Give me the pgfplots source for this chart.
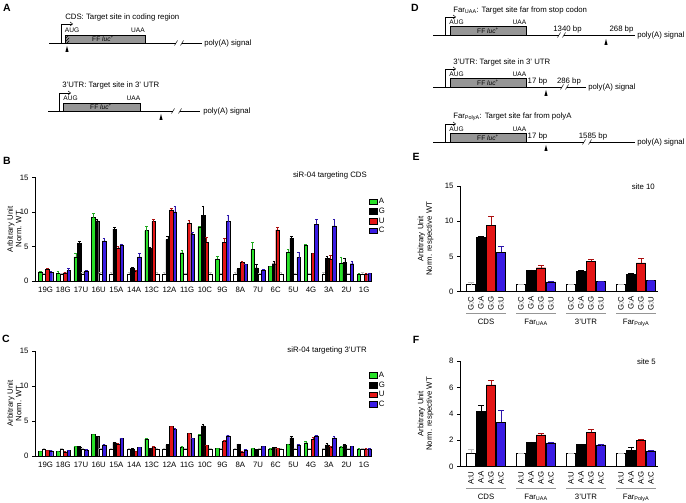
\documentclass[border=0pt]{standalone}
\usepackage{pgfplots}
\pgfplotsset{compat=1.18}
\usepackage{pgfplotstable}
\usepackage{fontspec}
\setmainfont{Liberation Sans}
\usetikzlibrary{patterns,arrows.meta}
\definecolor{cgreen}{RGB}{40,225,40}
\definecolor{cred}{RGB}{228,22,22}
\definecolor{cblue}{RGB}{58,28,228}
\definecolor{cbox}{RGB}{150,150,150}
\newcommand\fs{\fontsize{7.8}{8.4}\selectfont}
\newcommand\fsm{\fontsize{6.6}{7}\selectfont}
\newcommand\fsl{\fontsize{10.5}{11}\selectfont\bfseries}

\pgfplotstableread{
pos A eA G eG U eU C eC
0 1.35 0.1 nan 0 1.7 0.15 1.3 0.1
1 1.1 0.3 nan 0 1.2 0.1 1.5 0.3
2 3.5 0.5 5.45 0.3 nan 0 1.45 0.1
3 9.2 0.6 8.7 0.3 nan 0 5.8 0.4
4 nan 0 7.5 0.3 4.8 0.2 5.2 0.2
5 nan 0 1.9 0.1 1.4 0.1 3.5 0.5
6 7.3 0.6 4.7 0.2 8.6 0.3 nan 0
7 nan 0 6.0 0.5 10.3 0.3 10.0 0.8
8 4.1 0.4 nan 0 8.4 0.4 6.8 0.3
9 7.8 0.2 9.5 1.4 5.6 0.8 nan 0
10 3.2 0.4 nan 0 5.6 0.6 8.6 0.9
11 nan 0 1.7 0.1 2.7 0.1 2.4 0.1
12 4.6 1.0 1.9 0.5 nan 0 1.6 0.1
13 2.1 0.1 2.5 0.4 7.4 0.4 nan 0
14 4.2 0.4 6.2 0.3 nan 0 3.4 0.8
15 5.2 0.1 nan 0 4.0 0.1 8.2 0.7
16 nan 0 3.3 0.3 3.2 0.6 8.0 1.0
17 2.6 0.9 2.75 0.6 nan 0 2.5 0.4
18 1.0 0.1 nan 0 1.0 0.1 1.1 0.1
}\tabCDS

\pgfplotstableread{
x y e
-0.1 1.05 0.15
0.9 1.0 0.2
2.1 1.05 0.2
3.1 1.05 0.2
3.7 1.0 0.3
4.7 1.0 0.3
6.3 1.0 0.3
6.7 1.0 0.3
7.9 1.0 0.2
9.3 1.0 0.3
9.9 1.0 0.2
10.7 1.0 0.3
12.1 1.0 0.2
13.3 1.0 0.3
14.1 1.0 0.2
14.9 1.0 0.2
15.7 1.0 0.3
17.1 1.0 0.2
17.9 1.0 0.3
}\tabCDSwt

\pgfplotstableread{
pos A eA G eG U eU C eC
0 0.7 0.05 nan 0 0.8 0.05 0.75 0.05
1 0.7 0.05 nan 0 0.6 0.05 0.8 0.05
2 1.35 0.05 1.3 0.05 nan 0 0.85 0.05
3 3.1 0.05 2.8 0.05 nan 0 1.6 0.05
4 nan 0 1.9 0.05 1.7 0.1 2.5 0.1
5 nan 0 1.0 0.05 0.7 0.05 1.2 0.05
6 2.4 0.2 1.1 0.05 1.3 0.05 nan 0
7 nan 0 1.6 0.1 4.2 0.1 3.8 0.1
8 1.3 0.05 nan 0 3.2 0.05 2.5 0.1
9 3.0 0.1 4.3 0.3 1.5 0.05 nan 0
10 1.1 0.05 nan 0 2.1 0.1 2.9 0.1
11 nan 0 1.7 0.05 0.6 0.05 0.9 0.05
12 1.1 0.05 0.9 0.05 nan 0 1.4 0.05
13 1.0 0.05 1.2 0.05 1.1 0.05 nan 0
14 1.7 0.05 2.6 0.2 nan 0 1.6 0.05
15 1.9 0.2 nan 0 2.4 0.3 2.9 0.05
16 nan 0 1.6 0.2 1.3 0.05 2.6 0.2
17 1.3 0.05 1.6 0.05 nan 0 1.4 0.05
18 1.0 0.05 nan 0 1.0 0.05 1.0 0.05
}\tabUTR

\pgfplotstableread{
x y e
-0.1 1.0 0.08
0.9 1.0 0.08
2.1 1.0 0.08
3.1 1.0 0.08
3.7 1.0 0.08
4.7 1.0 0.08
6.3 1.0 0.08
6.7 1.0 0.08
7.9 1.0 0.08
9.3 1.0 0.08
9.9 1.0 0.08
10.7 1.0 0.08
12.1 1.0 0.08
13.3 1.0 0.08
14.1 1.0 0.08
14.9 1.0 0.08
15.7 1.0 0.08
17.1 1.0 0.08
17.9 1.0 0.08
}\tabUTRwt

\pgfplotstableread{
x W eW K eK R eR B eB
0 1.0 0.3 7.7 0.1 9.4 1.35 5.6 0.85
5 1.0 0.03 3.0 0.08 3.4 0.3 1.4 0.12
10 1.0 0.03 2.9 0.12 4.3 0.3 1.5 0.05
15 1.0 0.03 2.5 0.15 4.1 0.6 1.6 0.05
}\tabE

\pgfplotstableread{
x W eW K eK R eR B eB
0 1.0 0.35 4.2 0.45 6.2 0.35 3.35 0.9
5 1.0 0.03 1.85 0.02 2.4 0.15 1.8 0.07
10 1.0 0.03 1.7 0.02 2.6 0.2 1.65 0.03
15 1.0 0.03 1.25 0.25 2.0 0.1 1.2 0.03
}\tabF

\pgfplotsset{
  panel/.style={
    scale only axis, anchor=south west, clip=false,
    axis x line*=bottom, axis y line*=left,
    ymin=0,
    tick align=outside, major tick length=3pt,
    xtick style={draw=none},
    ytick style={black, line width=0.6pt},
    axis line style={black, line width=0.7pt},
    tick label style={font=\fs},
    /pgf/number format/assume math mode=true,
    every axis y label/.style={at={(axis description cs:#1,0.5)}, rotate=90, anchor=south, align=center, font=\fs},
    legend image code/.code={\draw[##1, line width=0pt] (0pt,-2.8pt) rectangle (8pt,2.8pt);},
  },
  mybar/.style={ybar, bar shift=0pt, draw=black, line width=0.35pt, fill=#1,
    error bars/.cd, y dir=plus, y explicit,
    error bar style={line width=0.4pt, draw=#1!75!black},
    error mark options={rotate=90, mark size=1.3pt, line width=0.4pt, draw=#1!75!black}},
  bigbar/.style={ybar, bar shift=0pt, draw=black, line width=0.45pt, fill=#1,
    error bars/.cd, y dir=plus, y explicit,
    error bar style={line width=0.5pt, draw=#1!75!black},
    error mark options={rotate=90, mark size=2.6pt, line width=0.5pt, draw=#1!75!black}},
  leg/.style={legend style={at={(1.0,0.81)}, anchor=north west, draw=none, fill=none, font=\fs, inner sep=0pt, row sep=0.3pt, nodes={inner sep=1.2pt, anchor=west}}, legend cell align=left},
}

\begin{document}
\begin{tikzpicture}
\useasboundingbox (0pt,0pt) rectangle (686pt,503pt);

% ---------- Panel B ----------
\begin{axis}[panel=-0.03, leg, at={(35pt,222pt)}, width=334.5pt, height=103.5pt,
  xmin=-0.6, xmax=18.3, ymax=15, ytick={0,5,10,15}, bar width=0.2,
  xtick={0,...,18}, xticklabels={19G,18G,17U,16U,15A,14A,13C,12A,11G,10C,9G,8A,7U,6C,5U,4G,3A,2U,1G},
  ylabel={Arbitrary Unit\\Norm. WT}]
\addplot[mybar=cgreen] table[x expr=\thisrow{pos}-0.3, y=A, y error=eA]{\tabCDS}; \addlegendentry{A}
\addplot[mybar=black] table[x expr=\thisrow{pos}-0.1, y=G, y error=eG]{\tabCDS}; \addlegendentry{G}
\addplot[mybar=cred] table[x expr=\thisrow{pos}+0.1, y=U, y error=eU]{\tabCDS}; \addlegendentry{U}
\addplot[mybar=cblue] table[x expr=\thisrow{pos}+0.3, y=C, y error=eC]{\tabCDS}; \addlegendentry{C}
\addplot[forget plot, mybar=white] table[x=x, y=y, y error=e]{\tabCDSwt};
\end{axis}

% ---------- Panel C ----------
\begin{axis}[panel=-0.03, leg, at={(35pt,47pt)}, width=334.5pt, height=105pt,
  xmin=-0.6, xmax=18.3, ymax=15, ytick={0,5,10,15}, bar width=0.2,
  xtick={0,...,18}, xticklabels={19G,18G,17U,16U,15A,14A,13C,12A,11G,10C,9G,8A,7U,6C,5U,4G,3A,2U,1G},
  ylabel={Arbitrary Unit\\Norm. WT}]
\addplot[mybar=cgreen] table[x expr=\thisrow{pos}-0.3, y=A, y error=eA]{\tabUTR}; \addlegendentry{A}
\addplot[mybar=black] table[x expr=\thisrow{pos}-0.1, y=G, y error=eG]{\tabUTR}; \addlegendentry{G}
\addplot[mybar=cred] table[x expr=\thisrow{pos}+0.1, y=U, y error=eU]{\tabUTR}; \addlegendentry{U}
\addplot[mybar=cblue] table[x expr=\thisrow{pos}+0.3, y=C, y error=eC]{\tabUTR}; \addlegendentry{C}
\addplot[forget plot, mybar=white] table[x=x, y=y, y error=e]{\tabUTRwt};
\end{axis}

% ---------- Panel E ----------
\begin{axis}[panel=-0.116, at={(460pt,211.3pt)}, width=198pt, height=105.7pt,
  xmin=-1.1, xmax=18.7, ymax=15, ytick={0,5,10,15}, bar width=0.92,
  xtick={0,1,2,3,5,6,7,8,10,11,12,13,15,16,17,18},
  xticklabels={G:C,G:A,G:G,G:U,G:C,G:A,G:G,G:U,G:C,G:A,G:G,G:U,G:C,G:A,G:G,G:U},
  xticklabel style={rotate=90, anchor=east, inner sep=1.5pt},
  ylabel={Arbitrary Unit\\Norm. respective WT}]
\addplot[bigbar=white] table[x expr=\thisrow{x}, y=W, y error=eW]{\tabE};
\addplot[bigbar=black] table[x expr=\thisrow{x}+1, y=K, y error=eK]{\tabE};
\addplot[bigbar=cred] table[x expr=\thisrow{x}+2, y=R, y error=eR]{\tabE};
\addplot[bigbar=cblue] table[x expr=\thisrow{x}+3, y=B, y error=eB]{\tabE};
\draw[line width=1.6pt, cbox] ([yshift=-22pt]axis cs:-0.5,0) -- ([yshift=-22pt]axis cs:3.5,0);
\draw[line width=1.6pt, cbox] ([yshift=-22pt]axis cs:4.5,0) -- ([yshift=-22pt]axis cs:8.5,0);
\draw[line width=1.6pt, cbox] ([yshift=-22pt]axis cs:9.5,0) -- ([yshift=-22pt]axis cs:13.5,0);
\draw[line width=1.6pt, cbox] ([yshift=-22pt]axis cs:14.5,0) -- ([yshift=-22pt]axis cs:18.5,0);
\node[font=\fs, anchor=north] at ([yshift=-24pt]axis cs:1.5,0) {CDS};
\node[font=\fs, anchor=north] at ([yshift=-24pt]axis cs:6.5,0) {Far\textsubscript{UAA}};
\node[font=\fs, anchor=north] at ([yshift=-24pt]axis cs:11.5,0) {3'UTR};
\node[font=\fs, anchor=north] at ([yshift=-24pt]axis cs:16.5,0) {Far\textsubscript{PolyA}};
\end{axis}

% ---------- Panel F ----------
\begin{axis}[panel=-0.116, at={(460pt,36.3pt)}, width=198pt, height=105.7pt,
  xmin=-1.1, xmax=18.7, ymax=8, ytick={0,2,4,6,8}, bar width=0.92,
  xtick={0,1,2,3,5,6,7,8,10,11,12,13,15,16,17,18},
  xticklabels={A:U,A:A,A:G,A:C,A:U,A:A,A:G,A:C,A:U,A:A,A:G,A:C,A:U,A:A,A:G,A:C},
  xticklabel style={rotate=90, anchor=east, inner sep=1.5pt},
  ylabel={Arbitrary Unit\\Norm. respective WT}]
\addplot[bigbar=white] table[x expr=\thisrow{x}, y=W, y error=eW]{\tabF};
\addplot[bigbar=black] table[x expr=\thisrow{x}+1, y=K, y error=eK]{\tabF};
\addplot[bigbar=cred] table[x expr=\thisrow{x}+2, y=R, y error=eR]{\tabF};
\addplot[bigbar=cblue] table[x expr=\thisrow{x}+3, y=B, y error=eB]{\tabF};
\draw[line width=1.6pt, cbox] ([yshift=-22pt]axis cs:-0.5,0) -- ([yshift=-22pt]axis cs:3.5,0);
\draw[line width=1.6pt, cbox] ([yshift=-22pt]axis cs:4.5,0) -- ([yshift=-22pt]axis cs:8.5,0);
\draw[line width=1.6pt, cbox] ([yshift=-22pt]axis cs:9.5,0) -- ([yshift=-22pt]axis cs:13.5,0);
\draw[line width=1.6pt, cbox] ([yshift=-22pt]axis cs:14.5,0) -- ([yshift=-22pt]axis cs:18.5,0);
\node[font=\fs, anchor=north] at ([yshift=-24pt]axis cs:1.5,0) {CDS};
\node[font=\fs, anchor=north] at ([yshift=-24pt]axis cs:6.5,0) {Far\textsubscript{UAA}};
\node[font=\fs, anchor=north] at ([yshift=-24pt]axis cs:11.5,0) {3'UTR};
\node[font=\fs, anchor=north] at ([yshift=-24pt]axis cs:16.5,0) {Far\textsubscript{PolyA}};
\end{axis}

% ---------- Schematics and labels (pixel coordinates, y downward) ----------
\begin{scope}[shift={(0pt,503pt)}, x=1pt, y=-1pt, line width=0.5pt]
\tikzset{arr/.style={-{Straight Barb[length=2.5pt,width=4pt]}, line width=0.5pt},
         lab/.style={font=\fs, inner sep=0pt},
         sm/.style={font=\fsm, inner sep=0pt}}
% panel letters
\node[font=\fsl, inner sep=0pt] at (7,8) {A};
\node[font=\fsl, inner sep=0pt] at (7,161) {B};
\node[font=\fsl, inner sep=0pt] at (6,339) {C};
\node[font=\fsl, inner sep=0pt] at (415,8) {D};
\node[font=\fsl, inner sep=0pt] at (416,157) {E};
\node[font=\fsl, inner sep=0pt] at (416,340) {F};
% titles
\node[lab, anchor=east] at (367,175) {siR-04 targeting CDS};
\node[lab, anchor=east] at (367,350) {siR-04 targeting 3'UTR};
\node[lab, anchor=east] at (655,187) {site 10};
\node[lab, anchor=east] at (656,362) {site 5};

% ---- A1: CDS
\node[lab, anchor=west] at (65,17) {CDS: Target site in coding region};
\draw[arr] (61,43) -- (61,24) -- (73,24);
\draw[fill=cbox] (65,35) rectangle (145,43);
\fill[pattern=north east lines] (65.3,35.3) rectangle (69,42.7);
\node[sm] at (72,30) {AUG};
\node[sm] at (138,30) {UAA};
\node[sm] at (103,39) {FF \textit{luc}\textsuperscript{+}};
\draw (49,43) -- (176,43);
\draw (174.5,45.5) -- (177.5,40.5);
\draw (180.5,45.5) -- (183.5,40.5);
\draw (182,43) -- (202,43);
\node[lab, anchor=west] at (204,43) {poly(A) signal};
\fill (67,46) -- (65.4,52) -- (68.6,52) -- cycle;

% ---- A2: 3'UTR
\node[lab, anchor=west] at (62,85) {3'UTR: Target site in 3' UTR};
\draw[arr] (59,111) -- (59,93) -- (71,93);
\draw[fill=cbox] (63,103) rectangle (140,111);
\node[sm] at (70.5,98) {AUG};
\node[sm] at (133.5,98) {UAA};
\node[sm] at (101,107) {FF \textit{luc}\textsuperscript{+}};
\draw (48,111) -- (173,111);
\draw (171.5,113.5) -- (174.5,108.5);
\draw (178.5,113.5) -- (181.5,108.5);
\draw (180,111) -- (200,111);
\node[lab, anchor=west] at (203,111) {poly(A) signal};
\fill (161,114) -- (159.4,120) -- (162.6,120) -- cycle;

% ---- D1: FarUAA
\node[lab, anchor=west] at (453,10) {Far\textsubscript{UAA}: Target site far from stop codon};
\draw[arr] (445,35) -- (445,17) -- (456,17);
\draw[fill=cbox] (450,26.5) rectangle (526,35);
\node[sm] at (456.5,22.5) {AUG};
\node[sm] at (519.5,22.5) {UAA};
\node[sm] at (488,31) {FF \textit{luc}\textsuperscript{+}};
\draw (433,35) -- (559,35);
\draw (557.5,37.5) -- (560.5,32.5);
\draw (562.5,37.5) -- (565.5,32.5);
\draw (564,35) -- (635,35);
\node[lab, anchor=west] at (637,35) {poly(A) signal};
\node[lab] at (567.5,29) {1340 bp};
\node[lab] at (621.5,29) {268 bp};
\fill (606,39) -- (604.4,45) -- (607.6,45) -- cycle;

% ---- D2: 3'UTR
\node[lab, anchor=west] at (453,62) {3'UTR: Target site in 3' UTR};
\draw[arr] (445,87) -- (445,69) -- (456,69);
\draw[fill=cbox] (450,78.5) rectangle (526,87);
\node[sm] at (456.5,74.5) {AUG};
\node[sm] at (519.5,74.5) {UAA};
\node[sm] at (488,83) {FF \textit{luc}\textsuperscript{+}};
\node[lab] at (537.5,81) {17 bp};
\node[lab] at (569,81) {286 bp};
\draw (433,87) -- (562,87);
\draw (560.5,89.5) -- (563.5,84.5);
\draw (565.5,89.5) -- (568.5,84.5);
\draw (567,87) -- (586,87);
\node[lab, anchor=west] at (588,87) {poly(A) signal};
\fill (546,90) -- (544.4,96) -- (547.6,96) -- cycle;

% ---- D3: FarPolyA
\node[lab, anchor=west] at (453,117) {Far\textsubscript{PolyA}: Target site far from polyA};
\draw[arr] (445,142) -- (445,124) -- (456,124);
\draw[fill=cbox] (450,133) rectangle (526,142);
\node[sm] at (456.5,129.5) {AUG};
\node[sm] at (519.5,129.5) {UAA};
\node[sm] at (488,138) {FF \textit{luc}\textsuperscript{+}};
\node[lab] at (537.5,136) {17 bp};
\node[lab] at (593,136) {1585 bp};
\draw (433,142) -- (584,142);
\draw (582.5,144.5) -- (585.5,139.5);
\draw (588.5,144.5) -- (591.5,139.5);
\draw (590,142) -- (635,142);
\node[lab, anchor=west] at (637,142) {poly(A) signal};
\fill (546,145) -- (544.4,151) -- (547.6,151) -- cycle;
\end{scope}
\end{tikzpicture}
\end{document}
